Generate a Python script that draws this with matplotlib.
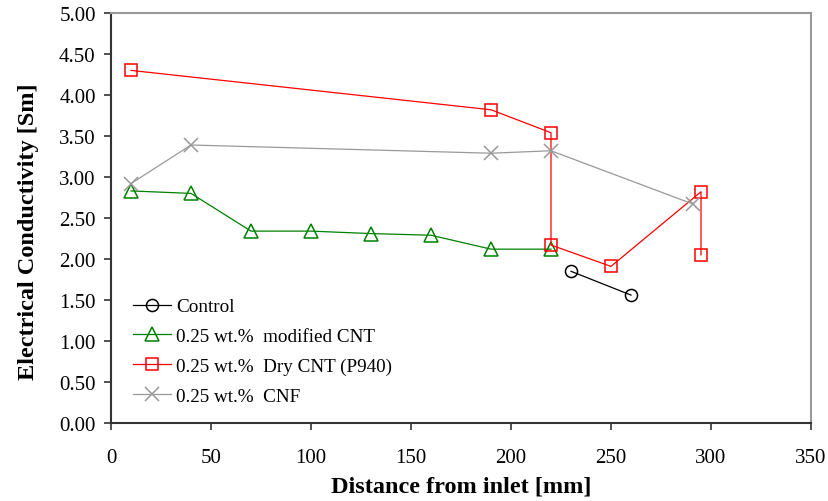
import matplotlib
matplotlib.use("Agg")
import matplotlib.pyplot as plt
from matplotlib.ticker import FormatStrFormatter

control_x = [230, 260]
control_y = [1.85, 1.56]
mod_cnt_x = [10, 40, 70, 100, 130, 160, 190, 220]
mod_cnt_y = [2.83, 2.80, 2.34, 2.34, 2.31, 2.29, 2.12, 2.12]
dry_cnt_x = [10, 190, 220, 220, 250, 295, 295]
dry_cnt_y = [4.30, 3.82, 3.54, 2.17, 1.91, 2.82, 2.05]
cnf_x = [10, 40, 190, 220, 291]
cnf_y = [2.92, 3.39, 3.29, 3.32, 2.67]

labels = ["Control", "0.25 wt.%  modified CNT", "0.25 wt.%  Dry CNT (P940)", "0.25 wt.%  CNF"]
x_ticks = [0, 50, 100, 150, 200, 250, 300, 350]
y_ticks = [0.0, 0.5, 1.0, 1.5, 2.0, 2.5, 3.0, 3.5, 4.0, 4.5, 5.0]

plt.rcParams['font.family'] = ['Liberation Serif', 'DejaVu Serif']

fig = plt.figure(figsize=(8.29, 5.02), dpi=100)
ax = fig.add_axes([111/829, 1-424/502, (811-111)/829, (424-14)/502])

lw = 0.9
mew = 1.1
ax.plot(control_x, control_y, color='black', lw=lw, marker='o', ms=8.7,
        mfc='none', mec='black', mew=mew, label=labels[0])
ax.plot(mod_cnt_x, mod_cnt_y, color='#008000', lw=lw, marker='^', ms=9.5,
        mfc='none', mec='#008000', mew=mew, label=labels[1])
ax.plot(dry_cnt_x, dry_cnt_y, color='#ff0000', lw=lw, marker='s', ms=8.6,
        mfc='none', mec='#ff0000', mew=mew, label=labels[2])
ax.plot(cnf_x, cnf_y, color='#999999', lw=lw, marker='x', ms=9.5,
        mfc='none', mec='#999999', mew=mew, label=labels[3])

ax.set_xlim(0, 350)
ax.set_ylim(0, 5)
ax.set_xticks(x_ticks)
ax.set_yticks(y_ticks)
ax.yaxis.set_major_formatter(FormatStrFormatter('%.2f'))
ax.tick_params(direction='out', length=5, width=1.2, labelsize=15, color='#333333')
ax.tick_params(axis='y', pad=6)
ax.tick_params(axis='x', pad=13)

for s in ['left', 'bottom']:
    ax.spines[s].set_color('#333333')
    ax.spines[s].set_linewidth(1.5)
for s in ['top', 'right']:
    ax.spines[s].set_color('#999999')
    ax.spines[s].set_linewidth(1.5)

ax.set_xlabel('Distance from inlet [mm]', fontsize=17.5, fontweight='bold', labelpad=6)
ax.set_ylabel('Electrical Conductivity [Sm]', fontsize=17.5, fontweight='bold')
ax.yaxis.set_label_coords(-0.103, 0.468)

leg = ax.legend(loc='upper left', bbox_to_anchor=(22/700, (424-299)/410), frameon=False,
                fontsize=13.8, handlelength=2.0, labelspacing=0.64, handletextpad=0.25,
                borderpad=0, borderaxespad=0)

fig.savefig('out.png', dpi=100)
